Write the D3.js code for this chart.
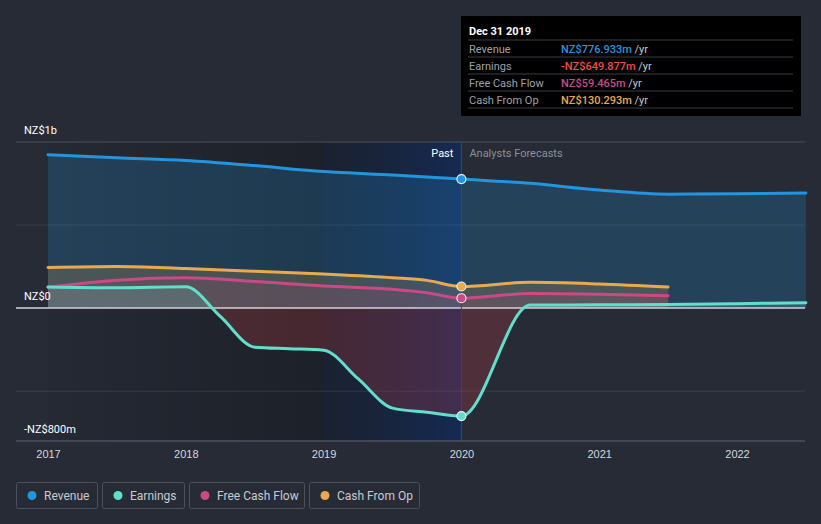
<!DOCTYPE html>
<html><head><meta charset="utf-8">
<script src="https://cdn.jsdelivr.net/npm/d3@7"></script>
<style>
html,body{margin:0;padding:0;background:#262b36;}
svg{display:block;font-family:Roboto,"Noto Sans",sans-serif;}
</style></head>
<body><svg id="c" width="821" height="524"></svg>
<script>
// ---- data (values in NZ$ millions) ----
const revenueYears = [2017, 2017.5, 2018, 2018.5, 2019, 2019.5, 2020, 2020.5, 2021, 2021.5, 2022, 2022.5];
const revenue      = [923, 905, 889, 858, 822, 801, 777, 751, 711, 686, 688, 693];
const earningsYears = [2017, 2017.5, 2018, 2018.25, 2018.5, 2018.75, 2019, 2019.25, 2019.5, 2019.75, 2020, 2020.5, 2021, 2021.5, 2022, 2022.5];
const earnings      = [127, 122, 128, -50, -235, -244, -253, -425, -602, -627, -650, 18, 20, 22, 27, 32];
const fcfYears = [2017, 2017.5, 2018, 2018.5, 2019, 2019.5, 2019.75, 2020, 2020.5, 2021, 2021.5];
const fcf      = [125, 168, 183, 160, 133, 114, 93, 59.5, 88, 84, 74];
const cfoYears = [2017, 2017.5, 2018, 2018.5, 2019, 2019.5, 2019.75, 2020, 2020.5, 2021, 2021.5];
const cfo      = [245, 251, 238, 222, 205, 183, 167, 130, 155, 145, 127];
const xTickYears = [2017, 2018, 2019, 2020, 2021, 2022];
const yTickValues = [1000, 0, -800];
const yTickLabels = ["NZ$1b", "NZ$0", "-NZ$800m"];
const gridValues = [1000, 500, 0, -500];
const seriesNames = ["Revenue", "Earnings", "Free Cash Flow", "Cash From Op"];
const seriesColors = ["#2394df", "#62dfcb", "#c94a85", "#e8a94f"];
const tipTitle = "Dec 31 2019";
const tipValues = ["NZ$776.933m", "-NZ$649.877m", "NZ$59.465m", "NZ$130.293m"];
const tipColors = ["#2394df", "#f04a4a", "#c94a8d", "#e8a94f"];
const pastYear = 2020;

// ---- scales ----
const svg = d3.select("#c");
const x = d3.scaleLinear().domain([2017, 2022]).range([48, 737]);
const y = d3.scaleLinear().domain([-800, 1000]).range([441, 142]);
const plotL = 16, plotR = 805;
const yTop = y(1000), yBot = y(-800);

const defs = svg.append("defs");
const g1 = defs.append("linearGradient").attr("id", "darkg").attr("x1", 0).attr("x2", 1).attr("y1", 0).attr("y2", 0);
g1.append("stop").attr("offset", 0).attr("stop-color", "#000").attr("stop-opacity", 0.04);
g1.append("stop").attr("offset", 1).attr("stop-color", "#000").attr("stop-opacity", 0.24);
const g2 = defs.append("linearGradient").attr("id", "blueg").attr("x1", 0).attr("x2", 1).attr("y1", 0).attr("y2", 0);
g2.append("stop").attr("offset", 0).attr("stop-color", "#0a1428").attr("stop-opacity", 0.4);
g2.append("stop").attr("offset", 1).attr("stop-color", "#0a2a66").attr("stop-opacity", 0.6);

// clip paths for earnings sign
defs.append("clipPath").attr("id", "abovez").append("rect")
  .attr("x", 0).attr("y", 0).attr("width", 821).attr("height", y(0));
defs.append("clipPath").attr("id", "belowz").append("rect")
  .attr("x", 0).attr("y", y(0)).attr("width", 821).attr("height", 524 - y(0));

// background shading
svg.append("rect").attr("x", x(2017)).attr("y", yTop).attr("width", x(2019) - x(2017)).attr("height", yBot - yTop).attr("fill", "url(#darkg)");
svg.append("rect").attr("x", x(2019)).attr("y", yTop).attr("width", x(pastYear) - x(2019)).attr("height", yBot - yTop).attr("fill", "url(#blueg)");

// gridlines
svg.append("g").selectAll("line").data(gridValues).join("line")
  .attr("x1", plotL).attr("x2", plotR).attr("y1", d => y(d)).attr("y2", d => y(d))
  .attr("stroke", (d, i) => i === 0 ? "#4a4f5a" : "rgba(255,255,255,0.09)").attr("stroke-width", 1);

// areas and lines
const curve = d3.curveMonotoneX;
function series(years, vals) { return years.map((t, i) => ({t, v: vals[i]})); }
const allSeries = [
  series(revenueYears, revenue),
  series(earningsYears, earnings),
  series(fcfYears, fcf),
  series(cfoYears, cfo)
];
const area = d3.area().x(d => x(d.t)).y0(y(0)).y1(d => y(d.v)).curve(curve);
const line = d3.line().x(d => x(d.t)).y(d => y(d.v)).curve(curve);

// fills
svg.append("path").datum(allSeries[0]).attr("d", area).attr("fill", seriesColors[0]).attr("fill-opacity", 0.22);
svg.append("path").datum(allSeries[3]).attr("d", area).attr("fill", seriesColors[3]).attr("fill-opacity", 0.2);
svg.append("path").datum(allSeries[2]).attr("d", area).attr("fill", seriesColors[2]).attr("fill-opacity", 0.15);
svg.append("path").datum(allSeries[1]).attr("d", area).attr("fill", seriesColors[1]).attr("fill-opacity", 0.18).attr("clip-path", "url(#abovez)");
svg.append("path").datum(allSeries[1]).attr("d", area).attr("fill", "#e0404a").attr("fill-opacity", 0.22).attr("clip-path", "url(#belowz)");

// zero line
svg.append("line").attr("x1", plotL).attr("x2", plotR).attr("y1", y(0)).attr("y2", y(0))
  .attr("stroke", "#cfd1d5").attr("stroke-width", 1.5);

// past divider
svg.append("line").attr("x1", x(pastYear)).attr("x2", x(pastYear)).attr("y1", yTop).attr("y2", yBot)
  .attr("stroke", "#2c4a80").attr("stroke-width", 1);

// lines
[0, 3, 2, 1].forEach(i => {
  svg.append("path").datum(allSeries[i]).attr("d", line).attr("fill", "none")
    .attr("stroke", seriesColors[i]).attr("stroke-width", 3).attr("stroke-linecap", "round");
});

// dots at past boundary
[0, 3, 2, 1].forEach(i => {
  const d = allSeries[i].find(p => p.t === pastYear);
  svg.append("circle").attr("cx", x(d.t)).attr("cy", y(d.v)).attr("r", 4.5)
    .attr("fill", seriesColors[i]).attr("stroke", "#e8eef5").attr("stroke-width", 1.2);
});

// bottom axis
const xAxis = d3.axisBottom(x).tickValues(xTickYears).tickFormat(d3.format("d")).tickSize(0).tickPadding(9);
const ax = svg.append("g").attr("transform", `translate(0,${yBot})`).call(xAxis);
ax.select(".domain").remove();
ax.selectAll("text").attr("fill", "#d6d8dc").attr("font-size", 11);
svg.append("line").attr("x1", plotL).attr("x2", plotR).attr("y1", yBot).attr("y2", yBot)
  .attr("stroke", "#4c5260").attr("stroke-width", 1.5);

// y labels
svg.append("g").selectAll("text").data(yTickValues).join("text")
  .attr("x", 24).attr("y", d => y(d) - 8)
  .attr("fill", "#ffffff").attr("font-size", 11)
  .text((d, i) => yTickLabels[i]);

// Past / forecast labels
svg.append("text").attr("x", x(pastYear) - 8).attr("y", 157).attr("text-anchor", "end")
  .attr("fill", "#ffffff").attr("font-size", 11).text("Past");
svg.append("text").attr("x", x(pastYear) + 8).attr("y", 157)
  .attr("fill", "#8c919a").attr("font-size", 11).text("Analysts Forecasts");

// tooltip
const tip = svg.append("g");
tip.append("rect").attr("x", 461).attr("y", 16).attr("width", 340).attr("height", 100).attr("fill", "#000");
tip.append("text").attr("x", 469).attr("y", 35).attr("fill", "#fff").attr("font-size", 11).attr("font-weight", "bold").text(tipTitle);
const rowY = [48.5, 65.5, 82.5, 99.5];
[40, 57, 74, 91, 108].forEach(ly => tip.append("line").attr("x1", 468).attr("x2", 793).attr("y1", ly).attr("y2", ly).attr("stroke", "#3a3d42").attr("stroke-width", 1));
seriesNames.forEach((n, i) => {
  tip.append("text").attr("x", 469).attr("y", rowY[i] + 4).attr("fill", "#9ea2a8").attr("font-size", 11).text(n);
  const t = tip.append("text").attr("x", 561).attr("y", rowY[i] + 4).attr("font-size", 11);
  t.append("tspan").attr("fill", tipColors[i]).attr("font-weight", 500).text(tipValues[i]);
  t.append("tspan").attr("fill", "#c9cbce").text(" /yr");
});

// legend
const legX = [16, 102, 189, 309];
const legW = [81, 82, 115, 110];
const leg = svg.append("g");
seriesNames.forEach((n, i) => {
  leg.append("rect").attr("x", legX[i] + 0.5).attr("y", 482.5).attr("width", legW[i]).attr("height", 26).attr("rx", 2)
    .attr("fill", "none").attr("stroke", "#4a505c").attr("stroke-width", 1);
  leg.append("circle").attr("cx", legX[i] + 16).attr("cy", 495.5).attr("r", 4.5).attr("fill", seriesColors[i]);
  leg.append("text").attr("x", legX[i] + 28).attr("y", 499.5).attr("fill", "#c8ccd2").attr("font-size", 12).text(n);
});
</script></body></html>
